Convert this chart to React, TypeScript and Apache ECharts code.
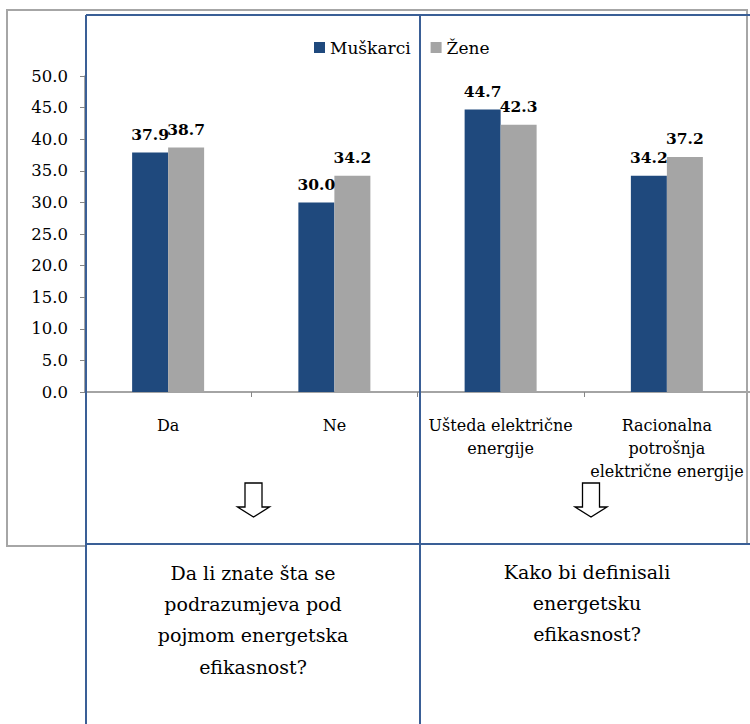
import React, { useEffect, useRef } from "react";
import * as echarts from "echarts";

const categories = [
  "Da",
  "Ne",
  "Ušteda električne\nenergije",
  "Racionalna\npotrošnja\nelektrične energije",
];
const seriesNames = ["Muškarci", "Žene"];
const muskarci = [37.9, 30.0, 44.7, 34.2];
const zene = [38.7, 34.2, 42.3, 37.2];
const yMin = 0;
const yMax = 50;
const yStep = 5;
const questionLeft = "Da li znate šta se\npodrazumjeva pod\npojmom energetska\nefikasnost?";
const questionRight = "Kako bi definisali\nenergetsku\nefikasnost?";

const BLUE = "#1f497d";
const GREY = "#a5a5a5";
const LINE_BLUE = "#3a5f96";
const FONT = "DejaVu Serif";

function arrow(cx: number) {
  const top = 483, shaftBottom = 507, tip = 517, sw = 8.5, hw = 16;
  return {
    type: "polygon",
    z: 100,
    shape: {
      points: [
        [cx - sw, top],
        [cx + sw, top],
        [cx + sw, shaftBottom],
        [cx + hw, shaftBottom],
        [cx, tip],
        [cx - hw, shaftBottom],
        [cx - sw, shaftBottom],
      ],
    },
    style: { fill: "#fff", stroke: "#000", lineWidth: 1.3 },
  };
}

export default function App() {
  const ref = useRef<HTMLDivElement>(null);
  useEffect(() => {
    if (!ref.current) return;
    const chart = echarts.init(ref.current, null, { renderer: "svg" });
    const labelCfg = {
      show: true,
      position: "top",
      distance: 10,
      fontFamily: FONT,
      fontWeight: "bold",
      fontSize: 15.5,
      color: "#000",
      formatter: (p: any) => Number(p.value).toFixed(1),
    };
    chart.setOption({
      animation: false,
      backgroundColor: "#fff",
      textStyle: { fontFamily: FONT },
      legend: {
        left: 309,
        top: 34,
        icon: "rect",
        itemWidth: 11,
        itemHeight: 11,
        itemGap: 20,
        data: seriesNames,
        textStyle: { fontFamily: FONT, fontSize: 17, color: "#000" },
      },
      grid: { left: 85, top: 76, width: 667, height: 316, containLabel: false },
      xAxis: {
        type: "category",
        data: categories,
        axisLine: { show: true, lineStyle: { color: "#868686", width: 1.5 } },
        axisTick: { show: true, length: 5, lineStyle: { color: "#868686" } },
        axisLabel: {
          interval: 0,
          margin: 22,
          fontFamily: FONT,
          fontSize: 16,
          lineHeight: 23,
          color: "#000",
        },
      },
      yAxis: {
        type: "value",
        min: yMin,
        max: yMax,
        interval: yStep,
        splitLine: { show: false },
        axisLine: { show: true, lineStyle: { color: "#868686", width: 1.5 } },
        axisTick: { show: true, inside: false, length: 5, lineStyle: { color: "#868686" } },
        axisLabel: {
          margin: 17,
          fontFamily: FONT,
          fontSize: 16.5,
          color: "#000",
          formatter: (v: number) => v.toFixed(1),
        },
      },
      series: [
        {
          name: seriesNames[0],
          type: "bar",
          data: muskarci,
          barWidth: 36,
          barGap: "0%",
          itemStyle: { color: BLUE },
          label: labelCfg,
        },
        {
          name: seriesNames[1],
          type: "bar",
          data: zene,
          barWidth: 36,
          itemStyle: { color: GREY },
          label: labelCfg,
        },
      ],
      graphic: [
        {
          type: "rect",
          z: 90,
          shape: { x: 7, y: 10, width: 740, height: 536 },
          style: { fill: "none", stroke: "#a6a6a6", lineWidth: 2 },
        },
        {
          type: "line",
          z: 95,
          shape: { x1: 86, y1: 15, x2: 750, y2: 15 },
          style: { stroke: LINE_BLUE, lineWidth: 2 },
        },
        {
          type: "line",
          z: 95,
          shape: { x1: 86, y1: 544, x2: 750, y2: 544 },
          style: { stroke: LINE_BLUE, lineWidth: 2 },
        },
        {
          type: "line",
          z: 95,
          shape: { x1: 86, y1: 15, x2: 86, y2: 724 },
          style: { stroke: LINE_BLUE, lineWidth: 2 },
        },
        {
          type: "line",
          z: 95,
          shape: { x1: 420, y1: 15, x2: 420, y2: 724 },
          style: { stroke: LINE_BLUE, lineWidth: 2 },
        },
        {
          type: "rect",
          z: 91,
          shape: { x: 87, y: 545, width: 663, height: 179 },
          style: { fill: "#fff" },
        },
        arrow(253.5),
        arrow(591),
        {
          type: "text",
          z: 100,
          x: 253,
          y: 557,
          style: {
            text: questionLeft,
            fontFamily: FONT,
            fontSize: 19,
            lineHeight: 31.3,
            fill: "#000",
            align: "center",
            verticalAlign: "top",
          },
        },
        {
          type: "text",
          z: 100,
          x: 587,
          y: 556,
          style: {
            text: questionRight,
            fontFamily: FONT,
            fontSize: 19,
            lineHeight: 31.3,
            fill: "#000",
            align: "center",
            verticalAlign: "top",
          },
        },
      ],
    });
    return () => chart.dispose();
  }, []);
  return (
    <div
      ref={ref}
      style={{ position: "fixed", left: 0, top: 0, width: 750, height: 724 }}
    />
  );
}
